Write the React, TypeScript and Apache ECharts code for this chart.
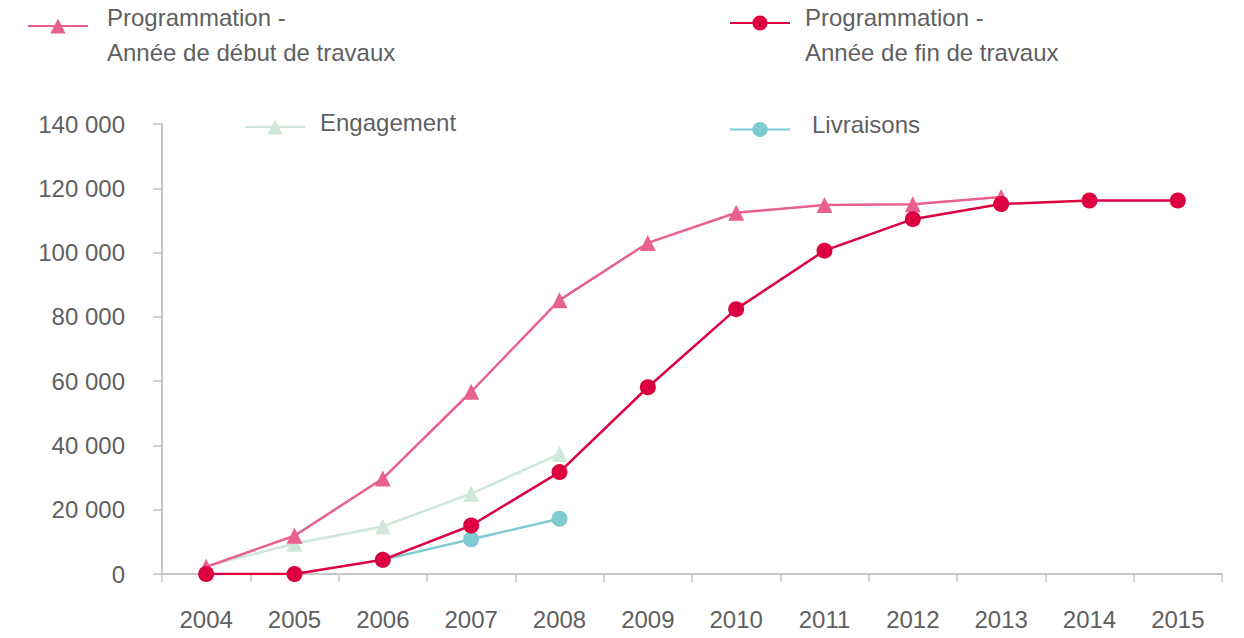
import React, { useEffect, useRef } from "react";
import * as echarts from "echarts";

const years = ["2004", "2005", "2006", "2007", "2008", "2009", "2010", "2011", "2012", "2013", "2014", "2015"];
const debutTravaux = [2200, 11900, 29700, 56700, 85200, 103000, 112400, 114800, 115000, 117300, null, null];
const finTravaux = [0, 0, 4400, 15100, 31700, 58100, 82400, 100600, 110400, 115100, 116200, 116200];
const engagement = [2500, 9400, 14800, 25000, 37300, null, null, null, null, null, null, null];
const livraisons = [null, null, 4400, 10800, 17200, null, null, null, null, null, null, null];

const NAME_DEBUT = "Programmation -\nAnnée de début de travaux";
const NAME_FIN = "Programmation -\nAnnée de fin de travaux";
const NAME_ENG = "Engagement";
const NAME_LIV = "Livraisons";

const C_DEBUT = "#E8608F";
const C_FIN = "#DC0041";
const C_ENG = "#CFE7D9";
const C_LIV = "#7FCBD2";
const AXIS = "#C6C6C6";
const TEXT = "#606060";
const FONT = "Liberation Sans";

const fmt = (v: number) => String(v).replace(/\B(?=(\d{3})+(?!\d))/g, " ");

function legend(name: string, left: number, top: number, padLeft: number, spaceTop: number, spaceBottom: number) {
  return {
    data: [name],
    left,
    top,
    padding: 0,
    orient: "horizontal",
    itemWidth: 60,
    itemHeight: 19,
    selectedMode: false,
    formatter: (n: string) => {
      const lines = n.split("\n").map((l) => `{t|${l}}`);
      if (spaceTop) lines.unshift("{s| }");
      if (spaceBottom) lines.push("{b| }");
      return lines.join("\n");
    },
    textStyle: {
      color: TEXT,
      fontSize: 24,
      fontFamily: FONT,
      padding: [0, 0, 0, padLeft],
      rich: {
        t: { color: TEXT, fontSize: 24, fontFamily: FONT, lineHeight: 35 },
        s: { fontSize: 8, lineHeight: spaceTop || 1 },
        b: { fontSize: 8, lineHeight: spaceBottom || 1 },
      },
    },
  };
}

export default function App() {
  const ref = useRef<HTMLDivElement>(null);
  useEffect(() => {
    document.body.style.margin = "0";
    const chart = echarts.init(ref.current!, null, { renderer: "svg" });
    const line = (name: string, data: any[], color: string, symbol: string, z: number) => ({
      name,
      type: "line",
      data,
      z,
      symbol,
      symbolSize: 16,
      showSymbol: true,
      connectNulls: false,
      itemStyle: { color, opacity: 1 },
      lineStyle: { color, width: 2.5 },
    });
    chart.setOption({
      animation: false,
      textStyle: { fontFamily: FONT },
      legend: [
        legend(NAME_DEBUT, 27, -13, 14, 18, 0),
        legend(NAME_FIN, 729, -16, 10, 24, 0),
        legend(NAME_ENG, 244, 110, 10, 0, 10),
        legend(NAME_LIV, 729, 112, 17, 0, 11),
      ],
      grid: { left: 162, right: 22, top: 124, bottom: 64, containLabel: false },
      xAxis: {
        type: "category",
        data: years,
        boundaryGap: true,
        axisLine: { show: true, lineStyle: { color: AXIS, width: 2 } },
        axisTick: { show: true, length: 8, alignWithLabel: false, lineStyle: { color: AXIS, width: 1.5 } },
        axisLabel: { color: TEXT, fontSize: 24, fontFamily: FONT, margin: 33 },
        splitLine: { show: false },
      },
      yAxis: {
        type: "value",
        min: 0,
        max: 140000,
        interval: 20000,
        axisLine: { show: true, lineStyle: { color: AXIS, width: 2 } },
        axisTick: { show: true, length: 9, lineStyle: { color: AXIS, width: 1.5 } },
        axisLabel: { color: TEXT, fontSize: 24, fontFamily: FONT, margin: 37, formatter: fmt },
        splitLine: { show: false },
      },
      series: [
        line(NAME_LIV, livraisons, C_LIV, "circle", 2),
        line(NAME_ENG, engagement, C_ENG, "triangle", 3),
        line(NAME_DEBUT, debutTravaux, C_DEBUT, "triangle", 4),
        line(NAME_FIN, finTravaux, C_FIN, "circle", 5),
      ],
    });
    return () => chart.dispose();
  }, []);
  return <div ref={ref} style={{ width: 1244, height: 638 }} />;
}
